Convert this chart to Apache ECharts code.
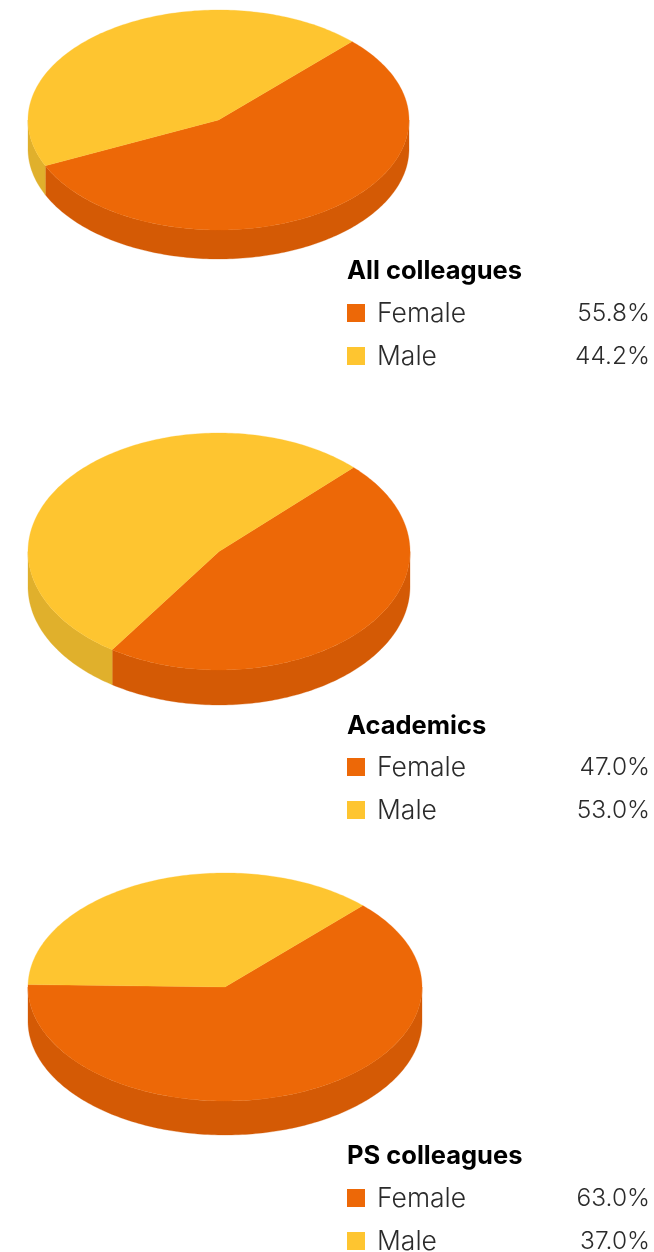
<!DOCTYPE html>
<html><head><meta charset="utf-8">
<style>html,body{margin:0;padding:0;background:#fff}#c{width:654px;height:1252px}</style>
<script src="https://cdn.jsdelivr.net/npm/echarts@6/dist/echarts.min.js"></script>
</head><body><div id="c"></div>
<script>
const categories = ['Female', 'Male'];
const groupNames = ['All colleagues', 'Academics', 'PS colleagues'];
const allColleagues = [55.8, 44.2];
const academics = [47.0, 53.0];
const psColleagues = [63.0, 37.0];
const groupValues = [allColleagues, academics, psColleagues];

const topColors = ['#ED6807', '#FEC530'];
const sideColors = ['#D45A05', '#E0B02C'];
const pieLayout = [
  {cx: 218.5, cy: 120, rx: 190.5, ry: 110, depth: 29, start: 44.5, titleY: 271, rowY: [313, 356]},
  {cx: 219, cy: 551.5, rx: 191, ry: 118.5, depth: 35, start: 44.8, titleY: 726, rowY: [767, 810]},
  {cx: 225, cy: 987, rx: 197, ry: 114, depth: 34, start: 44.4, titleY: 1156, rowY: [1198, 1241]}
];
const LEGEND_X = 347, TEXT_X = 377, VALUE_X = 650, FONT = 'Inter, Lato, sans-serif';

function pt(l, deg, dy) {
  const a = deg * Math.PI / 180;
  return [l.cx + l.rx * Math.sin(a), l.cy - l.ry * Math.cos(a) + (dy || 0)];
}
function arc(l, from, to, dy) {
  const pts = [], n = Math.max(2, Math.ceil(Math.abs(to - from)));
  for (let i = 0; i <= n; i++) pts.push(pt(l, from + (to - from) * i / n, dy));
  return pts;
}
function renderSlice(params, api) {
  const g = api.value(0), c = api.value(1), value = api.value(2);
  const l = pieLayout[g], vals = groupValues[g];
  const total = vals.reduce((a, b) => a + b, 0);
  let before = 0;
  for (let i = 0; i < c; i++) before += vals[i];
  const a0 = l.start + before / total * 360, a1 = a0 + value / total * 360;
  const children = [];
  [[90, 270], [450, 630]].forEach(([lo, hi]) => {
    const s = Math.max(a0, lo), e = Math.min(a1, hi);
    if (e > s) {
      children.push({
        type: 'polygon', z2: 1,
        shape: {points: arc(l, s, e, 0).concat(arc(l, e, s, l.depth))},
        style: {fill: sideColors[c], stroke: sideColors[c], lineWidth: 0.3}
      });
    }
  });
  children.push({
    type: 'polygon', z2: 2,
    shape: {points: [[l.cx, l.cy]].concat(arc(l, a0, a1, 0))},
    style: {fill: topColors[c], stroke: topColors[c], lineWidth: 0.3}
  });
  return {type: 'group', children};
}

const sliceData = [];
groupValues.forEach((vals, g) => vals.forEach((v, c) => sliceData.push([g, c, v])));

const graphics = [];
groupNames.forEach((name, g) => {
  const l = pieLayout[g];
  graphics.push({type: 'text', x: LEGEND_X, y: l.titleY,
    style: {text: name, font: '700 25.5px ' + FONT, fill: '#000', textAlign: 'left', textVerticalAlign: 'middle'}});
  categories.forEach((cat, c) => {
    const y = l.rowY[c];
    graphics.push({type: 'rect', shape: {x: LEGEND_X, y: y - 9, width: 18, height: 18}, style: {fill: topColors[c]}});
    graphics.push({type: 'text', x: TEXT_X, y: y + 1,
      style: {text: cat, font: '300 26.5px ' + FONT, fill: '#2b2b2b', textAlign: 'left', textVerticalAlign: 'middle'}});
    graphics.push({type: 'text', x: VALUE_X, y: y + 1,
      style: {text: groupValues[g][c].toFixed(1) + '%', font: '300 24.5px ' + FONT, fill: '#2b2b2b', textAlign: 'right', textVerticalAlign: 'middle'}});
  });
});

const chart = echarts.init(document.getElementById('c'), null, {renderer: 'canvas'});
chart.setOption({
  animation: false,
  backgroundColor: '#fff',
  series: [{type: 'custom', coordinateSystem: 'none', renderItem: renderSlice, data: sliceData, silent: true,
    dimensions: ['group', 'category', 'value']}],
  graphic: graphics
});
</script></body></html>
